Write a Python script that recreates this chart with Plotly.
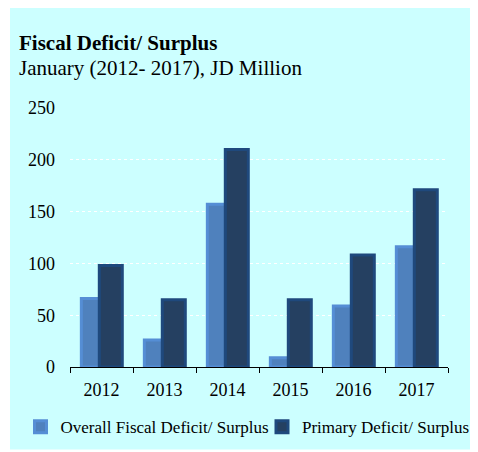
import plotly.graph_objects as go

years = ["2012", "2013", "2014", "2015", "2016", "2017"]
overall = [66, 26, 157, 9, 59, 116]
primary = [98, 65, 210, 65, 108, 171]
series_names = ["Overall Fiscal Deficit/ Surplus", "Primary Deficit/ Surplus"]
y_ticks = [0, 50, 100, 150, 200, 250]

FONT = "Liberation Serif"
BG = "#ccffff"

FIG_W, FIG_H = 470, 444
# plot area (figure px)
L, W = 62, 378
T, H = 100.3, 258.4
BOTTOM = T + H


def px(x):
    return (x - L) / W


def py(y):
    return (BOTTOM - y) / H


fig = go.Figure()
fig.add_trace(go.Bar(
    x=years, y=overall, name=series_names[0],
    width=0.365, offset=-0.32, legend="legend",
    marker=dict(color="#4f81bd", line=dict(color="#558ed5", width=3)),
))
fig.add_trace(go.Bar(
    x=years, y=primary, name=series_names[1],
    width=0.365, offset=-0.035, legend="legend2",
    marker=dict(color="#254061", line=dict(color="#1f497d", width=3)),
))

legend_style = dict(
    orientation="h", yanchor="middle", y=py(418.7), xanchor="left",
    font=dict(family=FONT, size=17), bgcolor="rgba(0,0,0,0)",
    itemwidth=30, borderwidth=0,
)

fig.update_layout(
    width=FIG_W, height=FIG_H,
    barmode="overlay",
    paper_bgcolor="white",
    plot_bgcolor=BG,
    margin=dict(l=L, r=FIG_W - L - W, t=T, b=FIG_H - BOTTOM, autoexpand=False),
    font=dict(family=FONT, size=18, color="black"),
    showlegend=True,
    legend=dict(x=px(12.5), **legend_style),
    legend2=dict(x=px(254), **legend_style),
    shapes=[dict(
        type="rect", xref="paper", yref="paper", layer="below",
        x0=px(2), x1=px(FIG_W + 10), y0=py(441), y1=py(-10),
        fillcolor=BG, line=dict(width=0),
    )],
    annotations=[
        dict(text="<b>Fiscal Deficit/ Surplus</b>", xref="paper", yref="paper",
             x=px(9), y=py(35), xanchor="left", yanchor="middle",
             showarrow=False, font=dict(family=FONT, size=21)),
        dict(text="January (2012- 2017), JD Million", xref="paper", yref="paper",
             x=px(9), y=py(60), xanchor="left", yanchor="middle",
             showarrow=False, font=dict(family=FONT, size=21)),
    ],
)

fig.update_xaxes(
    type="category", range=[-0.5, 5.5],
    showline=True, linecolor="black", linewidth=1,
    ticks="outside", tickson="boundaries", ticklen=5, tickcolor="black",
    showgrid=False, tickfont=dict(family=FONT, size=18), ticklabelstandoff=6,
)
fig.update_yaxes(
    range=[0, 250], tickvals=y_ticks,
    showgrid=True, gridcolor="white", griddash="dot", gridwidth=1,
    zeroline=False, showline=False, ticks="",
    tickfont=dict(family=FONT, size=18), ticklabelstandoff=14,
)

fig.write_html("out.html", config={"displayModeBar": False})
